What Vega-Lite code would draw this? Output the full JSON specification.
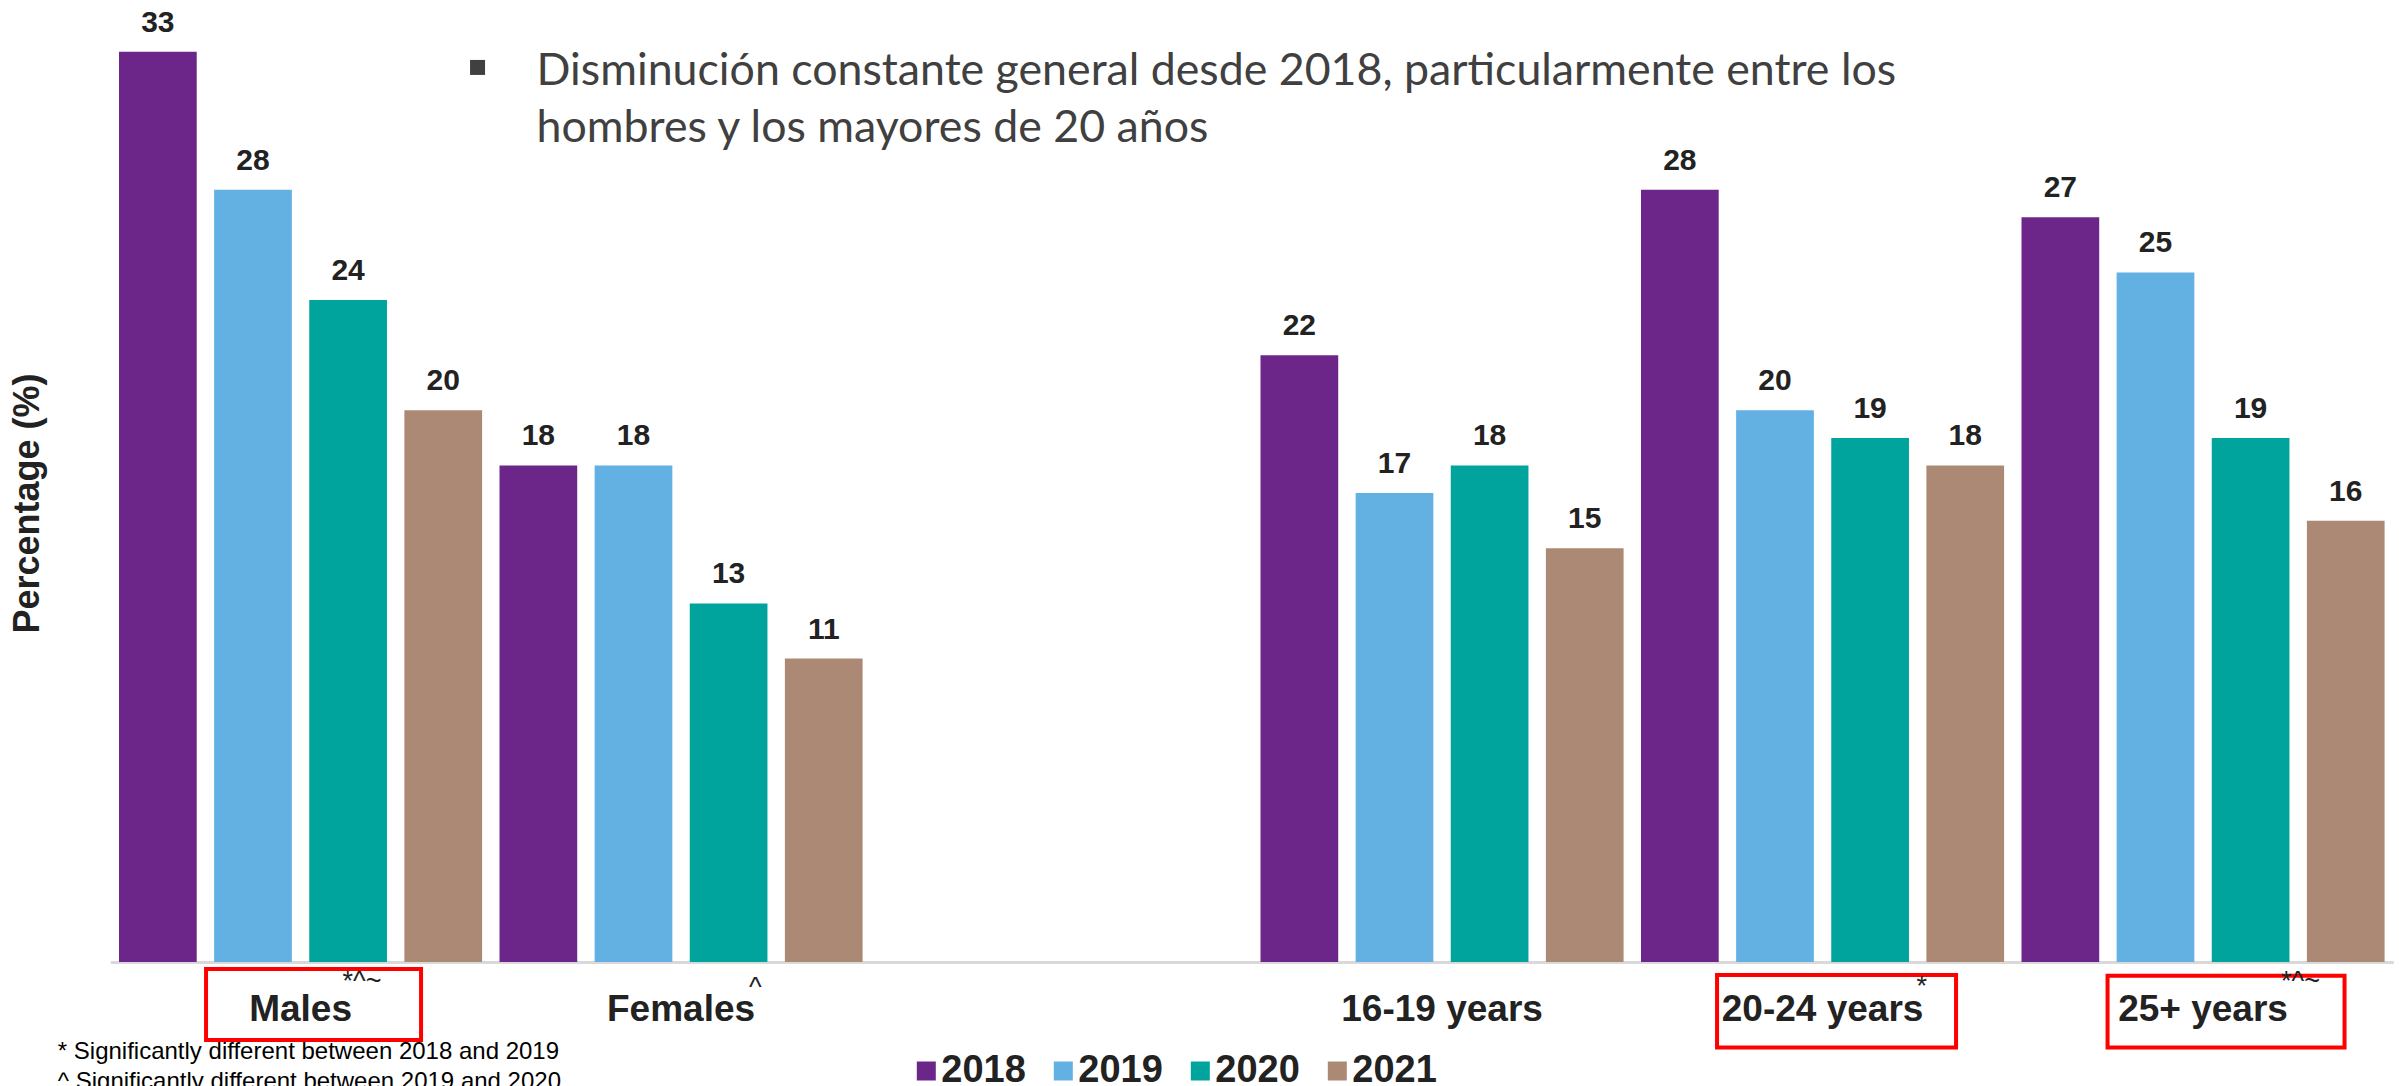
{
  "$schema": "https://vega.github.io/schema/vega-lite/v6.json",
  "width": 2283,
  "height": 950,
  "autosize": {"type": "none"},
  "padding": {"left": 110.3, "top": 12, "right": 5.7, "bottom": 124},
  "background": "white",
  "config": {"view": {"stroke": null}, "font": "Liberation Sans"},
  "datasets": {
    "bars": [
      {"cat": "Males", "year": "2018", "value": 33},
      {"cat": "Males", "year": "2019", "value": 28},
      {"cat": "Males", "year": "2020", "value": 24},
      {"cat": "Males", "year": "2021", "value": 20},
      {"cat": "Females", "year": "2018", "value": 18},
      {"cat": "Females", "year": "2019", "value": 18},
      {"cat": "Females", "year": "2020", "value": 13},
      {"cat": "Females", "year": "2021", "value": 11},
      {"cat": "16-19 years", "year": "2018", "value": 22},
      {"cat": "16-19 years", "year": "2019", "value": 17},
      {"cat": "16-19 years", "year": "2020", "value": 18},
      {"cat": "16-19 years", "year": "2021", "value": 15},
      {"cat": "20-24 years", "year": "2018", "value": 28},
      {"cat": "20-24 years", "year": "2019", "value": 20},
      {"cat": "20-24 years", "year": "2020", "value": 19},
      {"cat": "20-24 years", "year": "2021", "value": 18},
      {"cat": "25+ years", "year": "2018", "value": 27},
      {"cat": "25+ years", "year": "2019", "value": 25},
      {"cat": "25+ years", "year": "2020", "value": 19},
      {"cat": "25+ years", "year": "2021", "value": 16}
    ],
    "sig": [
      {"cat": "Males", "sig": "*^~"},
      {"cat": "Females", "sig": "^"},
      {"cat": "20-24 years", "sig": "*"},
      {"cat": "25+ years", "sig": "*^~"}
    ],
    "boxes": [
      {"cat": "Males"},
      {"cat": "20-24 years"},
      {"cat": "25+ years"}
    ],
    "note": [
      {"line": ["Disminución constante general desde 2018, particularmente entre los", "hombres y los mayores de 20 años"]}
    ]
  },
  "layer": [
    {
      "data": {"name": "bars"},
      "mark": {"type": "bar"},
      "encoding": {
        "x": {
          "field": "cat", "type": "nominal", "sort": null,
          "scale": {"domain": ["Males", "Females", " ", "16-19 years", "20-24 years", "25+ years"], "paddingInner": 0, "paddingOuter": 0},
          "axis": {
            "title": ["* Significantly different between 2018 and 2019", "^ Significantly different between 2019 and 2020"],
            "labelAngle": 0, "labelFontSize": 37, "labelFontWeight": "bold", "labelColor": "#222222",
            "labelBaseline": "alphabetic", "labelPadding": 58, "labelOverlap": false, "labelLimit": 0,
            "ticks": false, "domainColor": "#d9d9d9", "domainWidth": 3, "grid": false,
            "titleFontSize": 24, "titleFontWeight": "normal", "titleColor": "#000000",
            "titleAnchor": "start", "titleAlign": "left", "titleBaseline": "alphabetic",
            "titleX": -53, "titleY": 96, "titleLineHeight": 30
          }
        },
        "xOffset": {"field": "year", "type": "nominal", "scale": {"paddingInner": 0.183, "paddingOuter": 0.0915}},
        "y": {
          "field": "value", "type": "quantitative",
          "scale": {"domain": [0, 34.44], "nice": false, "zero": true},
          "axis": {
            "title": "Percentage (%)", "labels": false, "ticks": false, "domain": false, "grid": false,
            "titleFontSize": 36, "titleFontWeight": "bold", "titleColor": "#222222",
            "titleAngle": 270, "titleAlign": "center", "titleBaseline": "middle",
            "titleX": -83, "titleY": 491
          }
        },
        "color": {
          "field": "year", "type": "nominal",
          "scale": {"domain": ["2018", "2019", "2020", "2021"], "range": ["#6c2689", "#63b0e3", "#00a49c", "#ab8974"]},
          "legend": {
            "orient": "none", "legendX": 797, "legendY": 1040, "direction": "horizontal", "title": null,
            "symbolType": "square", "symbolSize": 361, "symbolStrokeWidth": 0, "symbolOpacity": 1,
            "labelFontSize": 38, "labelFontWeight": "bold", "labelColor": "#222222",
            "labelOffset": -4, "columnPadding": 18, "padding": 0
          }
        }
      }
    },
    {
      "data": {"name": "bars"},
      "mark": {"type": "text", "baseline": "alphabetic", "dy": -20, "fontSize": 30, "fontWeight": "bold", "color": "#222222"},
      "encoding": {
        "x": {"field": "cat", "type": "nominal"},
        "xOffset": {"field": "year", "type": "nominal"},
        "y": {"field": "value", "type": "quantitative"},
        "text": {"field": "value", "type": "quantitative", "format": "d"}
      }
    },
    {
      "data": {"name": "note"},
      "mark": {"type": "text", "align": "left", "baseline": "alphabetic", "dx": 236, "font": "Lato", "fontSize": 44.7, "color": "#404040", "lineHeight": 57},
      "encoding": {
        "x": {"datum": "Males", "type": "nominal"},
        "y": {"datum": 31.79},
        "text": {"field": "line"}
      }
    },
    {
      "data": {"name": "note"},
      "mark": {"type": "point", "shape": "square", "filled": true, "size": 225, "color": "#404040", "opacity": 1, "strokeWidth": 0, "xOffset": 177},
      "encoding": {
        "x": {"datum": "Males", "type": "nominal"},
        "y": {"datum": 32.43}
      }
    },
    {
      "data": {"name": "boxes"},
      "transform": [{"filter": "datum.cat === 'Males'"}],
      "mark": {"type": "bar", "filled": false, "stroke": "#ff0000", "strokeWidth": 4, "width": 215, "xOffset": 13},
      "encoding": {
        "x": {"field": "cat", "type": "nominal"},
        "y": {"datum": -0.25},
        "y2": {"datum": -2.83}
      }
    },
    {
      "data": {"name": "boxes"},
      "transform": [{"filter": "datum.cat === '20-24 years'"}],
      "mark": {"type": "bar", "filled": false, "stroke": "#ff0000", "strokeWidth": 4, "width": 239, "xOffset": 14},
      "encoding": {
        "x": {"field": "cat", "type": "nominal"},
        "y": {"datum": -0.47},
        "y2": {"datum": -3.1}
      }
    },
    {
      "data": {"name": "boxes"},
      "transform": [{"filter": "datum.cat === '25+ years'"}],
      "mark": {"type": "bar", "filled": false, "stroke": "#ff0000", "strokeWidth": 4, "width": 237, "xOffset": 23},
      "encoding": {
        "x": {"field": "cat", "type": "nominal"},
        "y": {"datum": -0.5},
        "y2": {"datum": -3.1}
      }
    },
    {
      "data": {"name": "sig"},
      "transform": [{"filter": "datum.cat === 'Males'"}],
      "mark": {"type": "text", "align": "left", "baseline": "alphabetic", "fontSize": 27, "color": "#222222", "dx": 42},
      "encoding": {
        "x": {"field": "cat", "type": "nominal"},
        "y": {"datum": -1.02},
        "text": {"field": "sig"}
      }
    },
    {
      "data": {"name": "sig"},
      "transform": [{"filter": "datum.cat === 'Females'"}],
      "mark": {"type": "text", "align": "left", "baseline": "alphabetic", "fontSize": 27, "color": "#222222", "dx": 68},
      "encoding": {
        "x": {"field": "cat", "type": "nominal"},
        "y": {"datum": -1.25},
        "text": {"field": "sig"}
      }
    },
    {
      "data": {"name": "sig"},
      "transform": [{"filter": "datum.cat === '20-24 years'"}],
      "mark": {"type": "text", "align": "left", "baseline": "alphabetic", "fontSize": 27, "color": "#222222", "dx": 94},
      "encoding": {
        "x": {"field": "cat", "type": "nominal"},
        "y": {"datum": -1.2},
        "text": {"field": "sig"}
      }
    },
    {
      "data": {"name": "sig"},
      "transform": [{"filter": "datum.cat === '25+ years'"}],
      "mark": {"type": "text", "align": "left", "baseline": "alphabetic", "fontSize": 27, "color": "#222222", "dx": 78},
      "encoding": {
        "x": {"field": "cat", "type": "nominal"},
        "y": {"datum": -1.02},
        "text": {"field": "sig"}
      }
    }
  ]
}
